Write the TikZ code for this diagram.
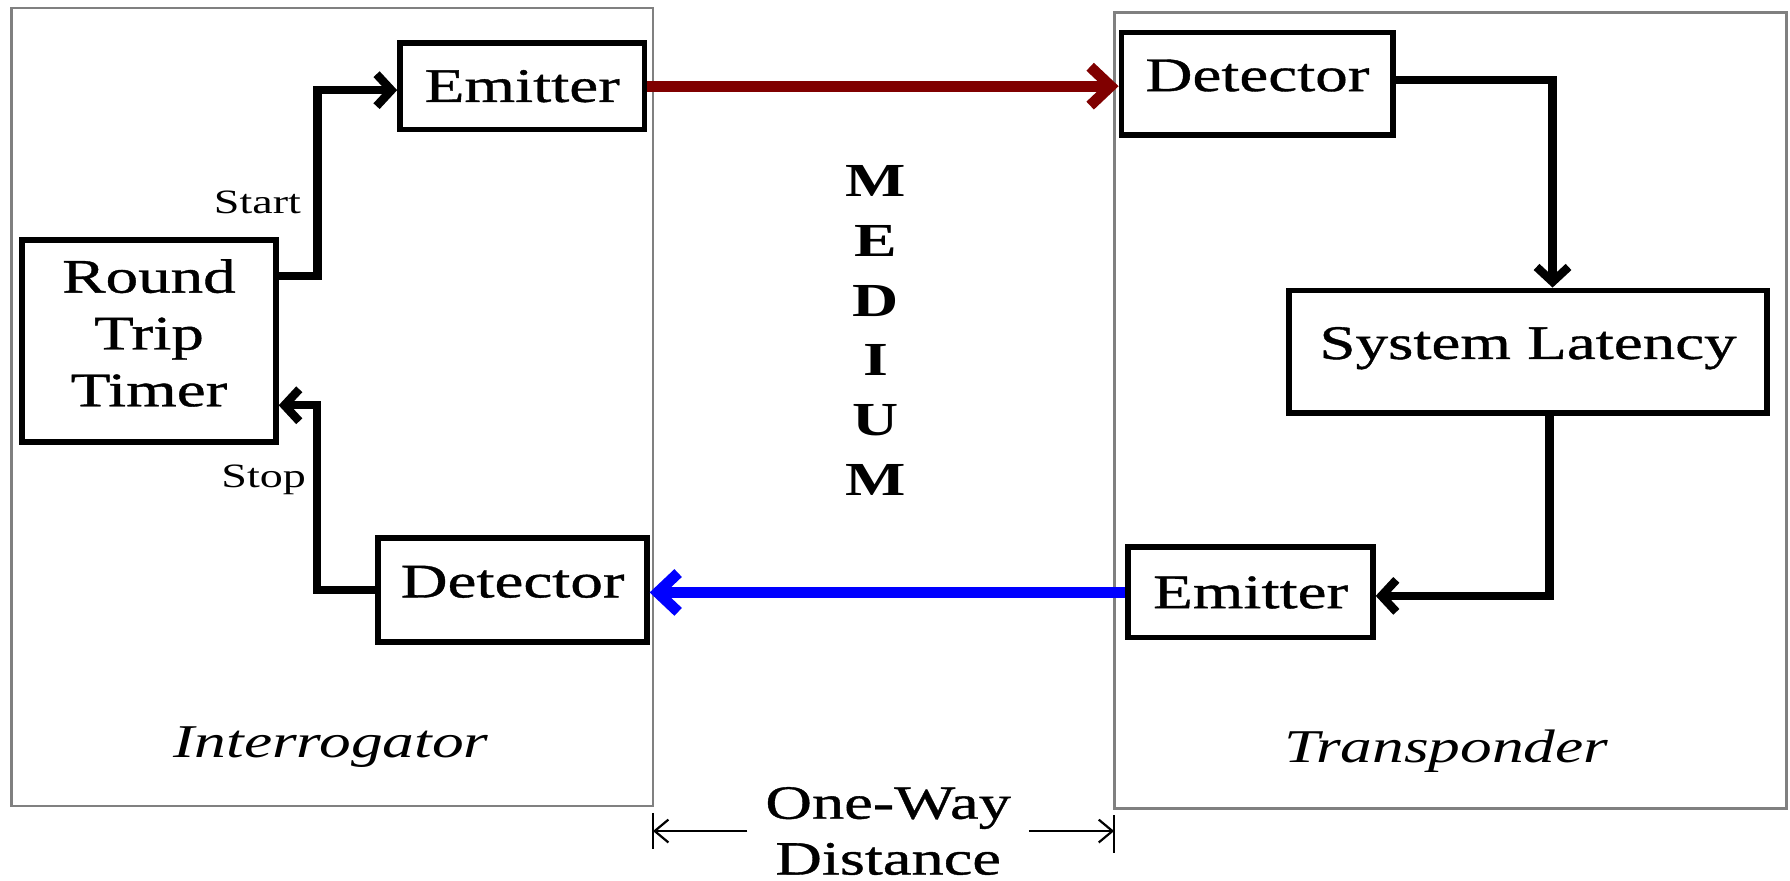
\documentclass[tikz,border=0pt]{standalone}
\usepackage{fontspec}
\setmainfont{Liberation Serif}[FakeStretch=1.35]
\newfontfamily\blockfont{Liberation Serif}[FakeStretch=1.35, FakeBold=0.8]
\usetikzlibrary{arrows.meta}
\definecolor{rayred}{RGB}{128,0,0}
\definecolor{rayblue}{RGB}{0,0,255}
\definecolor{framegray}{RGB}{128,128,128}

\tikzset{
  frame/.style={draw=framegray, line width=0.7pt},
  box/.style={draw, line width=1.45pt, inner sep=0pt,
    font=\blockfont\fontsize{12}{14.15}\selectfont},
  conn/.style={line width=2.1pt, -{Straight Barb[length=0.13cm,width=0.28cm]}},
  ray/.style={line width=2.7pt, -{Straight Barb[length=0.18cm,width=0.34cm]}},
  dimline/.style={line width=0.55pt, -{Straight Barb[length=0.12cm,width=0.2cm]}},
  barline/.style={line width=0.55pt},
  small/.style={font=\fontsize{8.5}{10}\selectfont, inner sep=0pt},
  medium/.style={font=\bfseries\fontsize{11.8}{14.9}\selectfont, align=center, inner sep=0pt},
  side/.style={font=\itshape\fontsize{11.7}{14}\selectfont, inner sep=0pt},
  distlbl/.style={font=\blockfont\fontsize{11.9}{13.9}\selectfont, align=center,
    inner xsep=0.15cm, inner ysep=0pt}
}

\begin{document}
\begin{tikzpicture}[x=0.01cm, y=-0.01cm]
\fill[white] (0,0) rectangle (1568,771);
\useasboundingbox (0,0) rectangle (1568,771);

% the two stations
\draw[frame] (10,7) rectangle (572,706);
\draw[frame] (976,11) rectangle (1565,708);

% interrogator blocks
\node[box, minimum width=2.14cm, minimum height=0.76cm] (em1) at (457.5,75.5) {Emitter};
\node[box, text depth=0.15cm, align=center, minimum width=2.22cm, minimum height=1.77cm] (rtt) at (130.5,299) {Round\\Trip\\Timer};
\node[box, text depth=0.15cm, minimum width=2.35cm, minimum height=0.91cm] (det1) at (449,517) {Detector};

% transponder blocks
\node[box, text depth=0.15cm, minimum width=2.38cm, minimum height=0.90cm] (det2) at (1101.5,73.5) {Detector};
\node[box, text depth=0.15cm, minimum width=4.18cm, minimum height=1.07cm] (lat) at (1338.5,308) {System Latency};
\node[box, minimum width=2.14cm, minimum height=0.79cm] (em2) at (1095.5,519) {Emitter};

% internal wiring
\draw[conn] ([yshift=0.57cm]rtt.east) -- ++(34,0) |- ([yshift=-0.035cm]em1.west);
\draw[conn] (det1.west) -- ++(-51,0) |- ([yshift=-0.56cm]rtt.east);
\draw[conn] ([yshift=0.035cm]det2.east) -| ([xshift=0.215cm]lat.north);
\draw[conn] ([xshift=0.19cm]lat.south) |- ([yshift=-0.03cm]em2.east);

% signals through the medium
\draw[ray, rayred] (em1.east) -- (em1.east -| det2.west);
\draw[ray, rayblue] (em2.west) -- (em2.west -| det1.east);

% labels
\node[small, anchor=base] (startlbl) at (225.5,187) {Start};
\node[small, anchor=base] (stoplbl) at (231,427) {Stop};
\node[medium] (medium) at (767,289.5) {M\\E\\D\\I\\U\\M};
\node[side, anchor=base] (interr) at (290,664) {Interrogator};
\node[side, anchor=base] (transp) at (1267,668) {Transponder};

% one-way distance dimension
\node[distlbl] (dist) at (778,728) {One-Way\\Distance};
\coordinate (barL) at (572,728);
\coordinate (barR) at (976,728);
\draw[barline] (572,712) -- (572,744);
\draw[barline] (976,714) -- (976,747);
\draw[dimline] (dist.west) -- (dist.west -| barL);
\draw[dimline] (dist.east) -- (dist.east -| barR);
\end{tikzpicture}
\end{document}
